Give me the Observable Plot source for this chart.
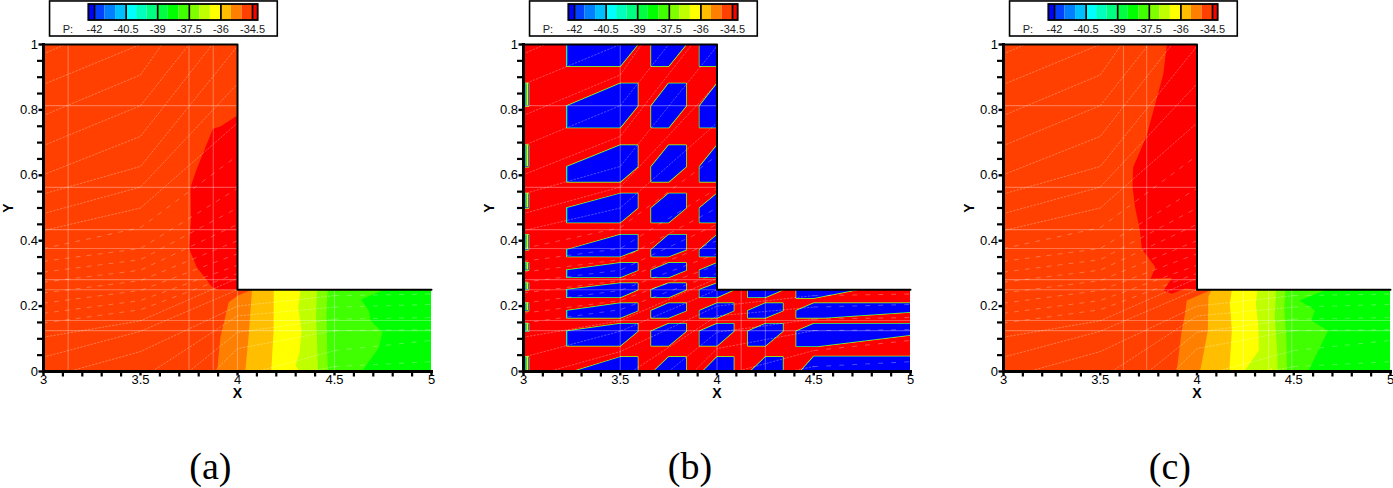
<!DOCTYPE html>
<html>
<head>
<meta charset="utf-8">
<script src="https://cdn.jsdelivr.net/npm/d3@7"></script>
<script src="https://cdn.jsdelivr.net/npm/@observablehq/plot@0.6"></script>
<style>
html,body{margin:0;padding:0;background:#fff;}
#fig{position:relative;width:1393px;height:488px;overflow:hidden;font-family:"Liberation Sans",Arial,sans-serif;}
#fig svg{position:absolute;top:0;overflow:visible;}
</style>
</head>
<body>
<div id="fig"></div>
<script>
// ---------- colour bar ----------
const levelEdges = [-42.27,-42,-41.5,-41,-40.5,-40,-39.5,-39,-38.5,-38,-37.5,-37,-36.5,-36,-35.5,-35,-34.5,-34.23];
const levelColors = ["#0000ff","#0040ff","#0080ff","#00bfff","#00ffff","#00ffbf","#00ff80","#00ff40","#00ff00","#40ff00","#80ff00","#bfff00","#ffff00","#ffbf00","#ff8000","#ff4000","#ff0000"];
const legendTicks = [-42,-40.5,-39,-37.5,-36,-34.5];

// ---------- axes ----------
const xMajor = [3,3.5,4,4.5,5];
const xMinor = [3.1,3.2,3.3,3.4,3.6,3.7,3.8,3.9,4.1,4.2,4.3,4.4,4.6,4.7,4.8,4.9];
const yMajor = [0,0.2,0.4,0.6,0.8,1];
const yMinor = [0.05,0.1,0.15,0.25,0.3,0.35,0.45,0.5,0.55,0.65,0.7,0.75,0.85,0.9,0.95];

// ---------- contour bands (a) ----------
const whole = [[3,0],[3,1],[5,1],[5,0]];
const bandsA = [
  {c:"#ff4000",p:whole},
  {c:"#ff0000",p:[[4,0.783],[3.912,0.749],[3.873,0.742],[3.787,0.615],[3.758,0.564],[3.76,0.462],[3.75,0.376],[3.79,0.319],[3.87,0.258],[3.9,0.25],[4,0.25]]},
  {c:"#ff8000",p:[[3.895,0],[3.912,0.105],[3.955,0.212],[4.0,0.232],[4.075,0.25],[5,0.25],[5,0]]},
  {c:"#ffbf00",p:[[4.04,0],[4.057,0.105],[4.075,0.25],[5,0.25],[5,0]]},
  {c:"#ffff00",p:[[4.174,0],[4.186,0.125],[4.187,0.25],[5,0.25],[5,0]]},
  {c:"#bfff00",p:[[4.32,0],[4.3,0.018],[4.32,0.059],[4.33,0.125],[4.313,0.197],[4.325,0.25],[5,0.25],[5,0]]},
  {c:"#80ff00",p:[[4.415,0],[4.405,0.176],[4.41,0.25],[5,0.25],[5,0]]},
  {c:"#40ff00",p:[[4.465,0],[4.458,0.176],[4.465,0.25],[5,0.25],[5,0]]},
  {c:"#00ff00",p:[[4.64,0],[4.65,0.008],[4.73,0.074],[4.747,0.12],[4.686,0.156],[4.677,0.186],[4.637,0.22],[4.753,0.25],[5,0.25],[5,0]]}
];
// ---------- contour bands (c) ----------
const bandsC = [
  {c:"#ff4000",p:whole},
  {c:"#ff0000",p:[[3.844,1],[3.826,0.91],[3.74,0.722],[3.67,0.625],[3.667,0.564],[3.68,0.502],[3.705,0.431],[3.715,0.375],[3.785,0.319],[3.76,0.284],[3.87,0.287],[3.828,0.248],[3.87,0.238],[3.94,0.254],[4,0.25],[4,1]]},
  {c:"#ff8000",p:[[3.895,0],[3.92,0.12],[3.938,0.176],[3.947,0.217],[4.076,0.25],[5,0.25],[5,0]]},
  {c:"#ffbf00",p:[[4.016,0],[4.056,0.125],[4.059,0.23],[4.076,0.25],[5,0.25],[5,0]]},
  {c:"#ffff00",p:[[4.167,0],[4.18,0.125],[4.17,0.207],[4.18,0.25],[5,0.25],[5,0]]},
  {c:"#bfff00",p:[[4.244,0],[4.32,0.065],[4.316,0.146],[4.304,0.207],[4.313,0.25],[5,0.25],[5,0]]},
  {c:"#ffff00",p:[[4.37,0],[4.385,0.012],[4.39,0]]},
  {c:"#80ff00",p:[[4.417,0],[4.414,0.065],[4.402,0.167],[4.408,0.25],[5,0.25],[5,0]]},
  {c:"#40ff00",p:[[4.465,0],[4.462,0.095],[4.45,0.197],[4.457,0.25],[5,0.25],[5,0]]},
  {c:"#00ff00",p:[[4.574,0],[4.677,0.125],[4.591,0.156],[4.609,0.187],[4.53,0.217],[4.668,0.25],[5,0.25],[5,0]]}
];
// ---------- panel (b): cells ----------
const colsB = [[3.224,3.5,3.59],[3.66,3.75,3.84],[3.91,4,4.086],[4.16,4.25,4.34]];
const rowsB = [[1.066,1,0.934],[0.881,0.812,0.746],[0.692,0.626,0.58],[0.544,0.5,0.456],[0.418,0.372,0.352],[0.332,0.31,0.288],[0.27,0.25,0.227],[0.209,0.186,0.164],[0.146,0.123,0.079]];
const edgeCells = [[0.881,0.812],[0.692,0.626],[0.544,0.5],[0.418,0.372],[0.332,0.31],[0.27,0.25],[0.209,0.186],[0.146,0.123],[0.044,0]];
const extraCells = [
  [[3.259,0],[3.5,0.044],[3.59,0.044],[3.59,0]],
  [[3.672,0],[3.75,0.044],[3.84,0.044],[3.84,0]],
  [[3.926,0],[4,0.044],[4.086,0.044],[4.086,0]],
  [[4.172,0],[4.25,0.044],[4.34,0.044],[4.34,0]],
  [[4.431,0],[4.5,0.046],[5,0.046],[5,0]],
  [[4.41,0.123],[4.41,0.077],[4.52,0.077],[5,0.112],[5,0.146],[4.5,0.146]],
  [[4.41,0.186],[4.41,0.164],[4.555,0.164],[5,0.182],[5,0.209],[4.5,0.209]],
  [[4.41,0.25],[4.41,0.225],[4.5,0.225],[4.72,0.25]]
];
const cellPolys = [];
colsB.forEach((c,ci)=>rowsB.forEach((r,ri)=>{
  if (ci===3 && ri<6) return;
  cellPolys.push([[c[0],r[1]],[c[0],r[2]],[c[1],r[2]],[c[2],r[1]],[c[2],r[0]],[c[1],r[0]]]);
}));
extraCells.forEach(p=>cellPolys.push(p));
edgeCells.forEach(r=>cellPolys.push([[3,r[0]],[3.026,r[0]],[3.026,r[1]],[3,r[1]]]));
const bandsB = [{c:"#ff0000",p:whole}];

// ---------- mesh lines ----------
const gridH = [0.813,0.563,0.434,0.376,0.281,0.25,0.156,0.125];
const gridVA = [3.127,3.75,3.875,4,4.5];
const gridVB = [3.5,4,4.125,4.25];
const gridVC = [3.62,3.74,4.24,4.37,4.49];
const meshSteep = [
  [[3,0.971],[3.11,1]],
  [[3,0.878],[3.5,1]],
  [[3,0.783],[3.5,0.907],[3.61,1]],
  [[3,0.691],[3.5,0.813],[3.75,1]],
  [[3,0.602],[3.5,0.719],[3.87,1]],
  [[3,0.543],[3.5,0.627],[4,0.995]],
  [[3,0.483],[3.5,0.564],[4,0.88]],
  [[3,0.431],[3.5,0.5],[4,0.76]],
  [[3,0.105],[3.5,0.155],[4,0.285]],
  [[3,0.044],[3.5,0.123],[4,0.25]],
  [[3.13,0],[3.5,0.061],[4,0.2],[4.5,0.232]],
  [[3.56,0],[4,0.17],[4.5,0.197]],
  [[3.75,0],[4,0.12],[4.5,0.16]],
  [[3.88,0],[4,0.07],[4.5,0.125]],
  [[4.1,0],[4.5,0.064]],
  [[4.37,0],[4.5,0.015]]
];
const meshFlat = [
  [[3,0.376],[3.5,0.44],[4,0.66]],
  [[3,0.337],[3.5,0.376],[4,0.56]],
  [[3,0.304],[3.5,0.342],[4,0.5]],
  [[3,0.273],[3.5,0.31],[4,0.45]],
  [[3,0.24],[3.5,0.278],[4,0.4]],
  [[3,0.209],[3.5,0.248],[4,0.36]],
  [[3,0.178],[3.5,0.217],[4,0.325]],
  [[3,0.148],[3.5,0.189],[4,0.3]]
];
const meshRight = [
  [[4.5,0.232],[5,0.237]],
  [[4.5,0.197],[5,0.205]],
  [[4.5,0.16],[5,0.165]],
  [[4.5,0.125],[5,0.128]],
  [[4.5,0.064],[5,0.095]],
  [[4.5,0.015],[5,0.03]]
];
const outlineThick = [[3,1],[3,0],[5,0]];
const outlineThin = [[3,1],[4,1],[4,0.25],[5,0.25]];

const ptsOf = polys => polys.flatMap((p,i)=>p.map(q=>({x:q[0],y:q[1],id:i})));
const closed = polys => polys.map(p=>[...p,p[0]]);
const bandPts = bands => bands.flatMap((b,i)=>b.p.map(q=>({x:q[0],y:q[1],id:i,c:b.c})));
const one = [{}];

function panel(left, width, mr, bands, cells, gridV, tag){
  const marks = [
    Plot.line(bandPts(bands),{x:"x",y:"y",z:"id",fill:"c",stroke:"none",clip:true})
  ];
  if (cells){
    const cp = ptsOf(closed(cells));
    marks.push(
      Plot.line(cp,{x:"x",y:"y",z:"id",stroke:"#d8ff00",strokeWidth:1.5,clip:true}),
      Plot.line(cp,{x:"x",y:"y",z:"id",stroke:"#00ff70",strokeWidth:0.8,clip:true}),
      Plot.line(cp,{x:"x",y:"y",z:"id",fill:"#0000ff",stroke:"none",clip:true}),
      Plot.rect(rowsB.slice(1),{x1:3.224,x2:3.229,y1:r=>r[1],y2:r=>r[2],fill:"#00ffb0"}),
      Plot.rect(rowsB.slice(0,1),{x1:3.224,x2:3.229,y1:1,y2:r=>r[2],fill:"#00ffb0"}),
      Plot.rect(edgeCells,{x1:3.008,x2:3.013,y1:r=>r[0],y2:r=>r[1],fill:"#00e8ff"}),
      Plot.rect(edgeCells,{x1:3.013,x2:3.019,y1:r=>r[0],y2:r=>r[1],fill:"#00ff70"}),
      Plot.rect(edgeCells,{x1:3.019,x2:3.026,y1:r=>r[0],y2:r=>r[1],fill:"#d8ff00"})
    );
  }
  const gridStyle = {stroke:"#fff",strokeOpacity:0.3,strokeWidth:1.1};
  marks.push(
    Plot.ruleY(gridH,{x1:3,x2:5,y:d=>d,...gridStyle}),
    Plot.ruleX(gridV,{x:d=>d,y1:0,y2:1,...gridStyle}),
    Plot.line(ptsOf(meshSteep),{x:"x",y:"y",z:"id",stroke:"#fff",strokeOpacity:0.3,strokeWidth:1,strokeDasharray:"1.5 2",clip:true}),
    Plot.line(ptsOf(meshFlat),{x:"x",y:"y",z:"id",stroke:"#fff",strokeOpacity:0.28,strokeWidth:1,strokeDasharray:"4 7",clip:true}),
    Plot.line(ptsOf(meshRight),{x:"x",y:"y",z:"id",stroke:"#fff",strokeOpacity:0.3,strokeWidth:1,strokeDasharray:"4 9",clip:true}),
    Plot.rect(one,{x1:4,x2:5.02,y1:0.25,y2:1.01,fill:"#fff"})
  );
  const base = {
    width,height:488,marginLeft:43,marginRight:mr,marginTop:44,marginBottom:117,
    x:{domain:[3,5],label:null},y:{domain:[0,1],label:null},
    color:{type:"identity"},
    style:{fontFamily:"Liberation Sans",color:"#000",background:"transparent",overflow:"visible"}
  };
  const field = Plot.plot({...base,x:{...base.x,axis:null},y:{...base.y,axis:null},marks});
  field.style.left = left+"px";
  document.getElementById("fig").appendChild(field);

  // outline, ticks and labels go in their own layer on top of the field
  const tx = (list,len,w)=>Plot.ruleX(list,{x:d=>d,y1:0,y2:-len/327,stroke:"#000",strokeWidth:w});
  const ty = (list,len,w)=>Plot.ruleY(list,{y:d=>d,x1:3,x2:3-len/194,stroke:"#000",strokeWidth:w});
  const top = Plot.plot({...base,marks:[
    Plot.line(outlineThin.map(q=>({x:q[0],y:q[1]})),{x:"x",y:"y",stroke:"#000",strokeWidth:2}),
    Plot.line(outlineThick.map(q=>({x:q[0],y:q[1]})),{x:"x",y:"y",stroke:"#000",strokeWidth:3,strokeLinecap:"square"}),
    tx(xMajor,4.5,2.4),tx(xMinor,5.5,2.2),ty(yMajor,4.5,2.4),ty(yMinor,6,2.2),
    Plot.axisX({ticks:xMajor,anchor:"bottom",tickSize:0,tickPadding:3.5,fontSize:13,tickFormat:d=>String(d),label:null}),
    Plot.axisY({ticks:yMajor,anchor:"left",tickSize:0,tickPadding:5.5,fontSize:13,tickFormat:d=>String(d),label:null}),
    Plot.text(one,{x:4,y:-0.068,text:()=>"X",fontWeight:"bold",fontSize:14,fontFamily:"Liberation Sans"}),
    Plot.text(one,{x:2.822,y:0.5,text:()=>"Y",fontWeight:"bold",fontSize:14,rotate:-90,fontFamily:"Liberation Sans"}),
    Plot.text(one,{x:3.86,y:-0.29,text:()=>tag,fontSize:38,fontFamily:"Liberation Serif"})
  ]});
  top.style.left = left+"px";
  document.getElementById("fig").appendChild(top);
}

function legend(left){
  const cells = levelColors.map((c,i)=>({c,a:levelEdges[i],b:levelEdges[i+1]}));
  const svg = Plot.plot({
    width:300,height:40,margin:0,
    x:{domain:[-42,-34.5],range:[94,252],label:null},
    y:{domain:[0,1],range:[20,4],label:null},
    color:{type:"identity"},
    axis:null,
    style:{fontFamily:"Liberation Sans",color:"#000",background:"transparent",overflow:"visible"},
    marks:[
      Plot.rect(one,{x1:-44.11,x2:-33.3,y1:-1,y2:1.19,fill:"#fff",stroke:"#000",strokeWidth:1.6}),
      Plot.rect(cells,{x1:"a",x2:"b",y1:0,y2:1,fill:"c"}),
      Plot.rect(one,{x1:-42.27,x2:-34.23,y1:0,y2:1,fill:"none",stroke:"#000",strokeWidth:1.8}),
      Plot.ruleX(legendTicks,{x:d=>d,y1:0,y2:1,stroke:"#000",strokeWidth:1.7}),
      Plot.text(legendTicks,{x:d=>d,y:-0.57,text:d=>String(d),fontSize:11,fill:"#222"}),
      Plot.text(one,{x:-43.26,y:-0.57,text:()=>"P:",fontSize:11,fill:"#222"})
    ]
  });
  svg.style.left = left+"px";
  document.getElementById("fig").appendChild(svg);
}

panel(0,480,49,bandsA,null,gridVA,"(a)");
panel(480,480,50,bandsB,cellPolys,gridVB,"(b)");
panel(960,433,3,bandsC,null,gridVC,"(c)");
legend(0);legend(480);legend(960);
</script>
</body>
</html>
